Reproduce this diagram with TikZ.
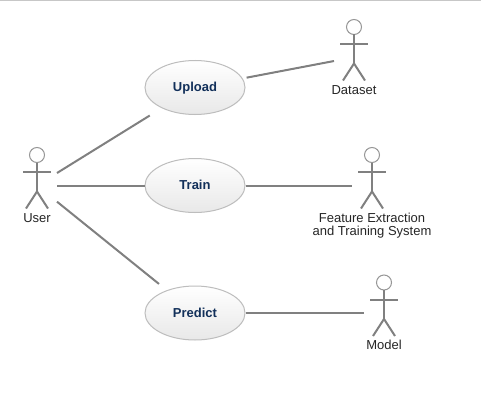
\documentclass[tikz,border=0pt]{standalone}
\usepackage{fontspec}
\setmainfont{Liberation Sans}
\usetikzlibrary{shapes.geometric}
\definecolor{linegray}{HTML}{808080}
\definecolor{rimgray}{HTML}{BDBDBD}
\definecolor{usecasetext}{HTML}{12305A}
\tikzset{
	usecase/.style={shape=ellipse,draw=rimgray,line width=1pt,top color=white,bottom color=black!9,
		minimum width=100pt,minimum height=54pt,inner sep=0pt,text=usecasetext,text height=10.5pt,text depth=2.5pt,
		font=\fontsize{13}{13}\selectfont\bfseries},
	actorbox/.style={shape=rectangle,minimum width=40pt,minimum height=78pt,inner sep=0pt,outer sep=0pt},
	actorlabel/.style={align=center,text=black!85,inner sep=0pt,font=\fontsize{13}{13}\selectfont},
	assoc/.style={draw=linegray,line width=2pt},
}
% stick figure round a named box, #2 = centre of the box
\newcommand{\actorfig}[2]{
	\node[actorbox] (#1) at (#2) {};
	\draw[rimgray!80!black,line width=1pt] ([yshift=30.5pt]#1.center) circle (7.5pt);
	\draw[linegray,line width=2pt] ([yshift=23pt]#1.center) -- ([yshift=-7pt]#1.center);
	\draw[linegray,line width=2pt] ([xshift=-14pt,yshift=13.5pt]#1.center) -- ([xshift=14pt,yshift=13.5pt]#1.center);
	\draw[linegray,line width=2pt] ([xshift=-11pt,yshift=-23pt]#1.center) -- ([yshift=-6pt]#1.center) -- ([xshift=11pt,yshift=-23pt]#1.center);
}
\begin{document}
\begin{tikzpicture}[x=1pt,y=-1pt]
		\useasboundingbox[fill=white] (0,0) rectangle (481,412);
		\draw[rimgray!85!white,line width=1.5pt] (0,0.5) -- (481,0.5);
		
		\node[usecase] (upload) at (195,87.5) {Upload};
		\node[usecase] (train) at (195,185.5) {Train};
		\node[usecase] (predict) at (195,313) {Predict};
		
		\actorfig{user}{37,185.5}
		\actorfig{dataset}{354,57.5}
		\actorfig{fesystem}{372,185.5}
		\actorfig{model}{384,313}
		
		\node[actorlabel] (userlabel) at (37,218.5) {User};
		\node[actorlabel] (datasetlabel) at (354,90.5) {Dataset};
		\node[actorlabel] (fesystemlabel) at (372,225.5) {Feature Extraction\\and Training System};
		\node[actorlabel] (modellabel) at (384,344.5) {Model};
		
		\path[assoc,shorten >=14pt] (user.32) -- (upload);
		\path[assoc] (user.east) -- (train.west);
		\path[assoc,shorten >=10pt] (user.-39.5) -- (predict);
		\path[assoc,shorten <=4pt] (upload) -- (dataset.190);
		\path[assoc] (train.east) -- (fesystem.west);
		\path[assoc] (predict.east) -- (model.west);
		
		\end{tikzpicture}
\end{document}
